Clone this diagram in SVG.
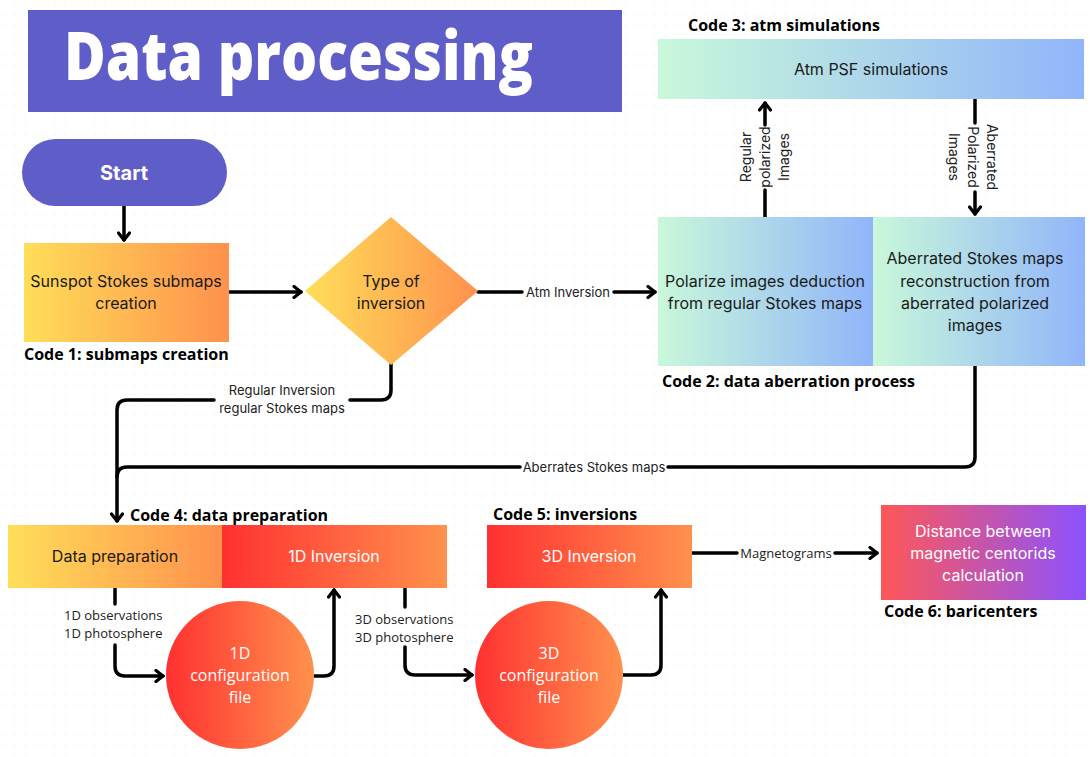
<svg xmlns="http://www.w3.org/2000/svg" width="1090" height="757" viewBox="0 0 1090 757">
<defs>
<style>
.conn{fill:none;stroke:#000;stroke-width:3.5;stroke-linecap:round;stroke-linejoin:round}
.node{font-family:Inter,"Liberation Sans",sans-serif;font-size:16px;text-anchor:middle}
.dark{fill:#1a1a1a}
.light{fill:#fff}
.os{font-family:"Open Sans","Liberation Sans",sans-serif}
.code{font-family:"Open Sans","Liberation Sans",sans-serif;font-weight:bold;font-size:16px;fill:#000}
.lbl{font-family:Inter,"Liberation Sans",sans-serif;font-size:13px;fill:#222;text-anchor:middle}
.lbl2{font-family:"Open Sans","Liberation Sans",sans-serif;font-size:13px;fill:#222}
</style>
<pattern id="dots" width="10" height="10" patternUnits="userSpaceOnUse"><circle cx="5" cy="5" r="0.7" fill="#ececec"/></pattern>
<linearGradient id="yo" x1="0" y1="0" x2="1" y2="0"><stop offset="0" stop-color="#FFDE59"/><stop offset="1" stop-color="#FF914D"/></linearGradient>
<linearGradient id="ro" x1="0" y1="0" x2="1" y2="0"><stop offset="0" stop-color="#FF3131"/><stop offset="1" stop-color="#FF914D"/></linearGradient>
<linearGradient id="mb" x1="0" y1="0" x2="1" y2="0"><stop offset="0" stop-color="#C9F8DA"/><stop offset="1" stop-color="#91B5FA"/></linearGradient>
<linearGradient id="pp" x1="0" y1="0" x2="1" y2="0"><stop offset="0" stop-color="#FF5757"/><stop offset="1" stop-color="#8C52FF"/></linearGradient>
<marker id="arr" viewBox="0 0 14 14" refX="11" refY="7" markerWidth="14" markerHeight="14" markerUnits="userSpaceOnUse" orient="auto">
<path d="M4,1.5 L11,7 L4,12.5" fill="none" stroke="#000" stroke-width="3.2" stroke-linecap="round" stroke-linejoin="round"/>
</marker>
</defs>
<rect width="1090" height="757" fill="#fff"/>
<rect width="1090" height="757" fill="url(#dots)"/>

<g id="title">
<rect x="28" y="10" width="594" height="102" fill="#5F5DC7"/>
<text x="64" y="80" font-family="'Open Sans','Liberation Sans',sans-serif" font-weight="800" font-size="68" fill="#fff" textLength="469" lengthAdjust="spacingAndGlyphs">Data processing</text>
</g>

<g id="connectors">
<path class="conn" d="M124,206 V240" marker-end="url(#arr)"/>
<path class="conn" d="M229,292 H301" marker-end="url(#arr)"/>
<path class="conn" d="M478,292 H522"/>
<path class="conn" d="M614,292 H655" marker-end="url(#arr)"/>
<path class="conn" d="M765,217 V190"/>
<path class="conn" d="M765,125 V103" marker-end="url(#arr)"/>
<path class="conn" d="M975,99 V123"/>
<path class="conn" d="M975,192 V214" marker-end="url(#arr)"/>
<path class="conn" d="M975,366 V457 Q975,467 965,467 H668"/>
<path class="conn" d="M520,467 H127 Q117,467 117,477"/>
<path class="conn" d="M391,364 V390 Q391,400 381,400 H350"/>
<path class="conn" d="M214,400 H127 Q117,400 117,410 V521" marker-end="url(#arr)"/>
<path class="conn" d="M115,588 V604"/>
<path class="conn" d="M115,645 V666 Q115,676 125,676 H163" marker-end="url(#arr)"/>
<path class="conn" d="M313,676 H324 Q334,676 334,666 V590" marker-end="url(#arr)"/>
<path class="conn" d="M405,588 V607"/>
<path class="conn" d="M405,647 V665 Q405,675 415,675 H472" marker-end="url(#arr)"/>
<path class="conn" d="M623,675 H651 Q661,675 661,665 V590" marker-end="url(#arr)"/>
<path class="conn" d="M692,553 H737"/>
<path class="conn" d="M835,553 H877" marker-end="url(#arr)"/>
<text class="lbl" x="568" y="296.5">Atm Inversion</text>
<text class="lbl" x="282" y="395">Regular Inversion</text>
<text class="lbl" x="282" y="413">regular Stokes maps</text>
<text class="lbl" x="594" y="472">Aberrates Stokes maps</text>
<text class="lbl2" x="64" y="620">1D observations</text>
<text class="lbl2" x="64" y="638">1D photosphere</text>
<text class="lbl2" x="355" y="624">3D observations</text>
<text class="lbl2" x="355" y="642">3D photosphere</text>
<text class="lbl2" x="786" y="558" font-size="14" text-anchor="middle">Magnetograms</text>
<text transform="translate(765,157) rotate(-90)" font-family="Inter,'Liberation Sans',sans-serif" font-size="14" fill="#222" text-anchor="middle"><tspan x="0" y="-14">Regular</tspan><tspan x="0" y="5">polarized</tspan><tspan x="0" y="24">Images</tspan></text>
<text transform="translate(973,157) rotate(90)" font-family="Inter,'Liberation Sans',sans-serif" font-size="14" fill="#222" text-anchor="middle"><tspan x="0" y="-14">Aberrated</tspan><tspan x="0" y="5">Polarized</tspan><tspan x="0" y="24">Images</tspan></text>
</g>

<g id="start">
<rect x="22" y="139" width="205" height="67" rx="33.5" fill="#5F5DC7"/>
<text x="124" y="180" font-family="Inter,'Liberation Sans',sans-serif" font-weight="bold" font-size="20" fill="#fff" text-anchor="middle">Start</text>
</g>

<g id="submaps">
<rect x="24" y="243" width="205" height="99" fill="url(#yo)"/>
<text class="node dark"><tspan x="126" y="287">Sunspot Stokes submaps</tspan><tspan x="126" y="309">creation</tspan></text>
<text class="code" x="24" y="360">Code 1: submaps creation</text>
</g>

<g id="type-of-inversion">
<polygon points="391,217 478,291 391,365 305,291" fill="url(#yo)"/>
<text class="node dark"><tspan x="391" y="287">Type of</tspan><tspan x="391" y="309">inversion</tspan></text>
</g>

<g id="polarize">
<rect x="658" y="217" width="215" height="149" fill="url(#mb)"/>
<text class="node dark"><tspan x="765" y="287">Polarize images deduction</tspan><tspan x="765" y="309">from regular Stokes maps</tspan></text>
<text class="code" x="662" y="387">Code 2: data aberration process</text>
</g>

<g id="aberrated">
<rect x="873" y="217" width="212" height="149" fill="url(#mb)"/>
<text class="node dark"><tspan x="975" y="264">Aberrated Stokes maps</tspan><tspan x="975" y="287">reconstruction from</tspan><tspan x="975" y="309">aberrated polarized</tspan><tspan x="975" y="331">images</tspan></text>
</g>

<g id="atm-psf">
<rect x="658" y="39" width="426" height="60" fill="url(#mb)"/>
<text class="node dark" x="871" y="75">Atm PSF simulations</text>
<text class="code" x="688" y="31">Code 3: atm simulations</text>
</g>

<g id="data-preparation">
<rect x="8" y="525" width="214" height="63" fill="url(#yo)"/>
<text class="node dark" x="115" y="562">Data preparation</text>
<text class="code" x="130" y="521">Code 4: data preparation</text>
</g>

<g id="inversion-1d">
<rect x="222" y="525" width="225" height="63" fill="url(#ro)"/>
<text class="node light" x="334" y="562">1D Inversion</text>
</g>

<g id="config-1d">
<circle cx="240" cy="675" r="74" fill="url(#ro)"/>
<text class="os light" font-size="16" text-anchor="middle"><tspan x="240" y="659">1D</tspan><tspan x="240" y="681">configuration</tspan><tspan x="240" y="703">file</tspan></text>
</g>

<g id="inversion-3d">
<rect x="487" y="525" width="205" height="63" fill="url(#ro)"/>
<text class="node light" x="589" y="562">3D Inversion</text>
<text class="code" x="493" y="520">Code 5: inversions</text>
</g>

<g id="config-3d">
<circle cx="549" cy="675" r="74" fill="url(#ro)"/>
<text class="os light" font-size="16" text-anchor="middle"><tspan x="549" y="659">3D</tspan><tspan x="549" y="681">configuration</tspan><tspan x="549" y="703">file</tspan></text>
</g>

<g id="baricenters">
<rect x="881" y="505" width="205" height="95" fill="url(#pp)"/>
<text class="node light"><tspan x="983" y="537">Distance between</tspan><tspan x="983" y="559">magnetic centorids</tspan><tspan x="983" y="581">calculation</tspan></text>
<text class="code" x="884" y="617">Code 6: baricenters</text>
</g>
</svg>
